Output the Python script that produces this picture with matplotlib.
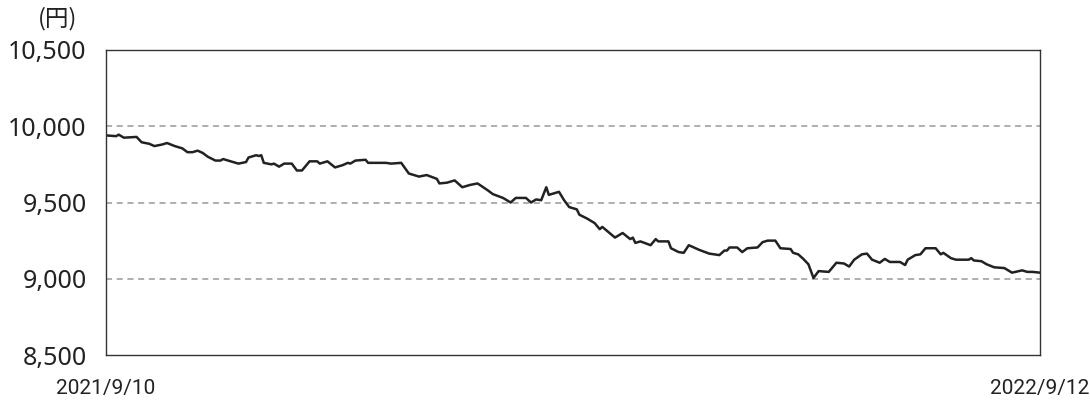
import matplotlib
matplotlib.use("Agg")
import matplotlib.pyplot as plt

plt.rcParams['font.family'] = ['Noto Sans', 'Noto Sans CJK JP', 'DejaVu Sans']

# days since 2021/9/10, and price (yen)
days = [0, 4, 5, 7, 12, 14, 17, 19, 22, 24, 27, 30, 32, 34, 36, 38, 40, 43, 45, 46,
        49, 52, 55, 56, 59, 60, 61, 62, 65, 66, 68, 70, 73, 75, 77, 80, 83, 84, 87, 90,
        93, 95, 96, 98, 102, 103, 110, 112, 116, 119, 123, 126, 130, 131, 134, 137, 140, 143, 146, 150,
        152, 156, 159, 161, 165, 167, 169, 171, 173, 174, 178, 180, 182, 185, 186, 189, 192, 194, 195, 200,
        203, 206, 207, 208, 210, 214, 216, 217, 221, 222, 225, 227, 229, 233, 237, 241, 243, 244, 245, 248,
        250, 252, 256, 258, 260, 263, 265, 269, 270, 272, 274, 276, 278, 280, 284, 287, 290, 292, 294, 297,
        299, 301, 304, 306, 308, 312, 314, 315, 318, 320, 322, 326, 328, 329, 332, 334, 339, 340, 341, 344,
        346, 349, 353, 356, 360, 362, 364, 367]
price = [9940, 9935, 9945, 9925, 9930, 9895, 9885, 9870, 9880, 9890, 9870, 9855, 9830, 9830, 9840, 9825, 9800, 9775, 9775, 9785,
         9770, 9755, 9765, 9795, 9810, 9805, 9810, 9760, 9750, 9755, 9735, 9755, 9755, 9710, 9710, 9770, 9770, 9755, 9770, 9730,
         9745, 9760, 9755, 9775, 9780, 9760, 9760, 9755, 9760, 9690, 9670, 9680, 9655, 9625, 9630, 9645, 9600, 9615, 9625, 9580,
         9555, 9530, 9500, 9530, 9530, 9500, 9520, 9515, 9600, 9550, 9570, 9515, 9470, 9455, 9420, 9395, 9365, 9325, 9340, 9270,
         9300, 9260, 9270, 9235, 9245, 9220, 9260, 9245, 9245, 9200, 9175, 9170, 9220, 9190, 9165, 9155, 9185, 9185, 9205, 9205,
         9175, 9200, 9205, 9240, 9250, 9250, 9200, 9195, 9170, 9160, 9130, 9095, 9005, 9050, 9045, 9105, 9100, 9080, 9125, 9160,
         9165, 9125, 9105, 9130, 9110, 9110, 9090, 9125, 9155, 9160, 9200, 9200, 9160, 9170, 9135, 9125, 9125, 9135, 9120, 9115,
         9095, 9075, 9070, 9040, 9055, 9045, 9045, 9040]

yticks = [8500, 9000, 9500, 10000, 10500]
ytick_labels = ['8,500', '9,000', '9,500', '10,000', '10,500']
start_label = '2021/9/10'
end_label = '2022/9/12'

fig = plt.figure(figsize=(10.9, 4.01), dpi=100)
ax = fig.add_axes([106 / 1090, 1 - 355 / 401, 934 / 1090, 305 / 401])

ax.plot(days, price, color='#222222', linewidth=1.8)

ax.set_xlim(0, 367)
ax.set_ylim(8500, 10500)
ax.set_yticks(yticks)
ax.set_yticklabels(ytick_labels, fontsize=18, color='#222222')
ax.set_xticks([0, 367])
ax.set_xticklabels([start_label, end_label], fontsize=15, color='#222222',
                   family=['Liberation Sans Narrow', 'Roboto', 'DejaVu Sans'])
ax.tick_params(axis='both', length=0)
ax.tick_params(axis='y', pad=14)
ax.tick_params(axis='x', pad=17)

for v in yticks[1:-1]:
    ax.axhline(v, color='#999999', linestyle=(0, (4, 3)), linewidth=1.1, zorder=0)

for s in ax.spines.values():
    s.set_color('#333333')
    s.set_linewidth(1.0)

fig.text(58 / 1090, 1 - 19 / 401, '(円)', fontsize=17, ha='center', va='center',
         color='#222222', family=['Noto Sans CJK JP', 'DejaVu Sans'])

fig.savefig('out.png', dpi=100)
